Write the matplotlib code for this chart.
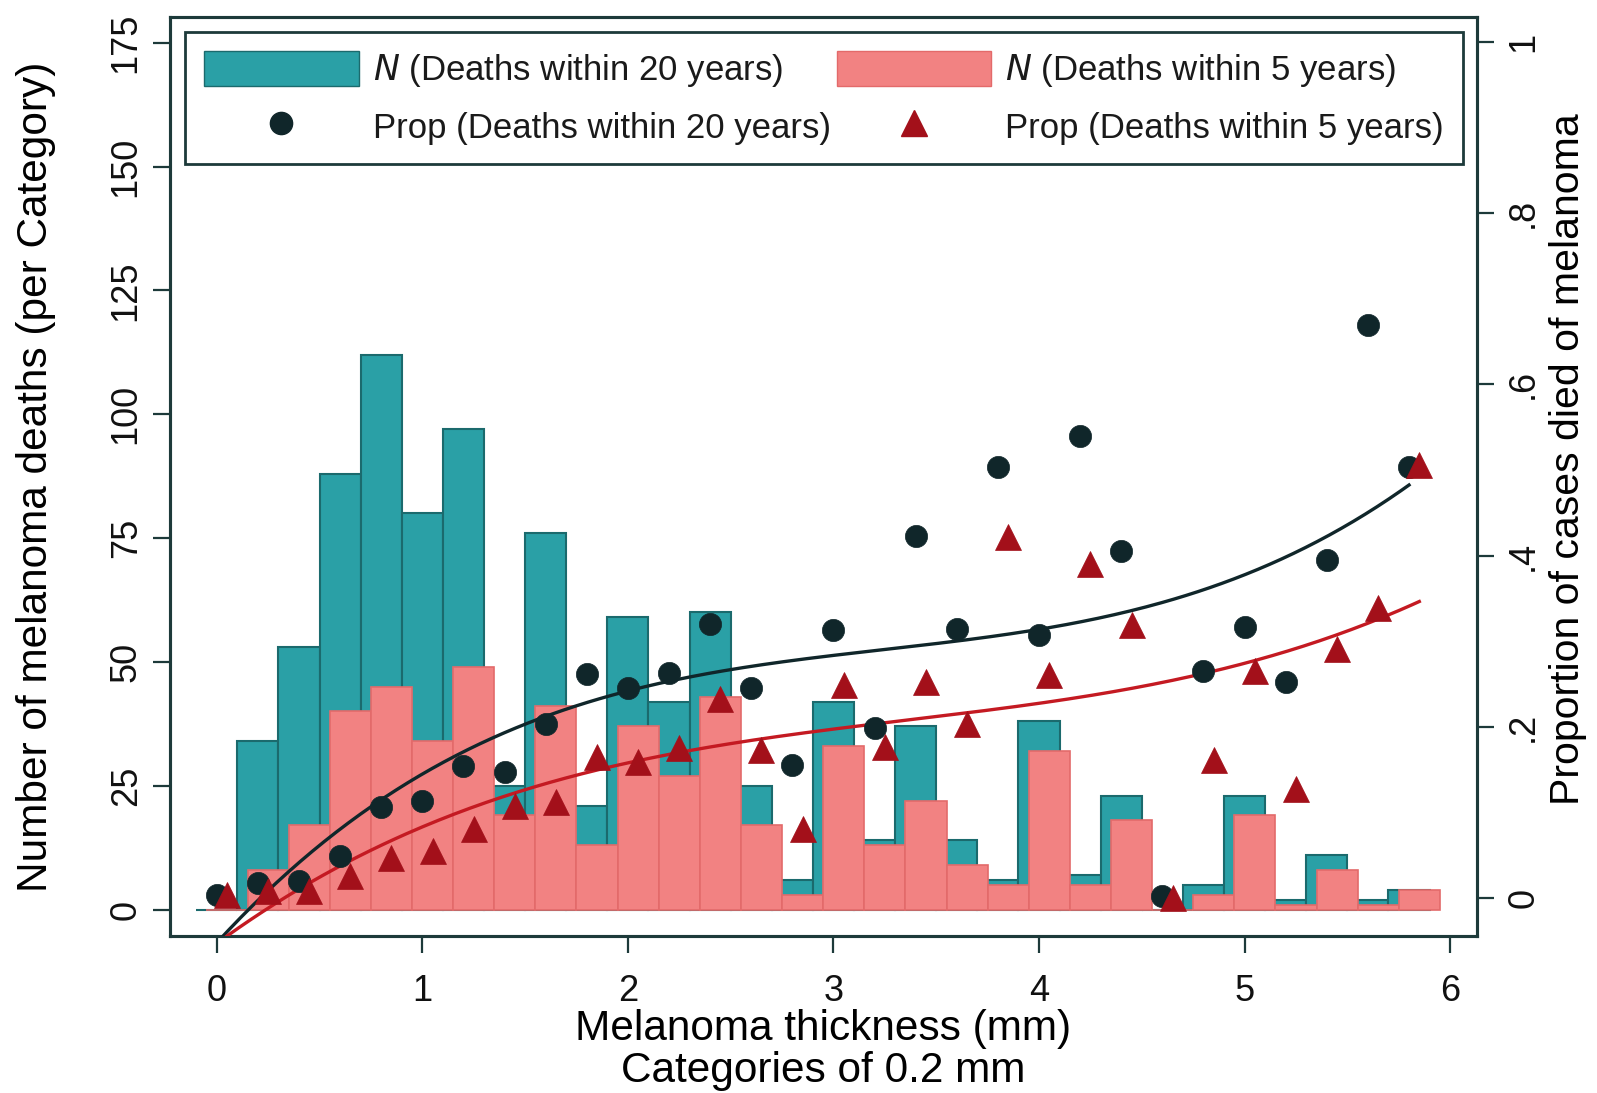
import numpy as np
import matplotlib
matplotlib.use('Agg')
import matplotlib.pyplot as plt
from matplotlib.patches import Patch
from matplotlib.lines import Line2D

# thickness categories (mm), 0.2 mm bins
thickness = [0.0, 0.2, 0.4, 0.6, 0.8, 1.0, 1.2, 1.4, 1.6, 1.8,
             2.0, 2.2, 2.4, 2.6, 2.8, 3.0, 3.2, 3.4, 3.6, 3.8,
             4.0, 4.2, 4.4, 4.6, 4.8, 5.0, 5.2, 5.4, 5.6, 5.8]
# deaths per category
n_20y = [0, 34, 53, 88, 112, 80, 97, 25, 76, 21,
         59, 42, 60, 25, 6, 42, 14, 37, 14, 6,
         38, 7, 23, 0, 5, 23, 2, 11, 2, 4]
n_5y = [0, 8, 17, 40, 45, 34, 49, 19, 41, 13,
        37, 27, 43, 17, 3, 33, 13, 22, 9, 5,
        32, 5, 18, 0, 3, 19, 1, 8, 1, 4]
# proportion of cases died of melanoma
prop_20y = [0.004, 0.018, 0.020, 0.050, 0.107, 0.114, 0.155, 0.148, 0.204, 0.262,
            0.245, 0.263, 0.320, 0.246, 0.156, 0.313, 0.199, 0.423, 0.315, 0.503,
            0.307, 0.540, 0.406, 0.003, 0.265, 0.317, 0.252, 0.395, 0.669, 0.503]
prop_5y = [0.004, 0.009, 0.009, 0.026, 0.047, 0.055, 0.081, 0.108, 0.113, 0.165,
           0.159, 0.175, 0.233, 0.173, 0.081, 0.249, 0.177, 0.252, 0.204, 0.422,
           0.261, 0.390, 0.319, 0.000, 0.162, 0.265, 0.128, 0.291, 0.339, 0.506]

TEAL = '#2aa0a6'
TEAL_EDGE = '#1b6a6d'
SALMON = '#f28282'
SALMON_EDGE = '#e36a6a'
DOT = '#10262a'
TRI = '#a3101a'
LINE_RED = '#c41a22'
FRAME = '#1d3a3a'

plt.rcParams['font.family'] = ['Liberation Sans', 'DejaVu Sans']
tick_fs = 26
title_fs = 30.5

fig = plt.figure(figsize=(15.97, 10.93), dpi=100)
ax = fig.add_axes([0.1065, 0.1436, 0.8184, 0.8408])
ax2 = ax.twinx()

# 5-year series is drawn shifted a little to the right
x20 = np.array(thickness)
x5 = x20 + 0.05
ax.bar(x20, n_20y, width=0.2, color=TEAL, edgecolor=TEAL_EDGE, linewidth=1.5, zorder=2)
ax.bar(x5, n_5y, width=0.2, color=SALMON, edgecolor=SALMON_EDGE, linewidth=1.2, zorder=3)

# smooth fits of the proportions (cubic)
xs20 = np.linspace(x20[0], x20[-1], 300)
xs5 = np.linspace(x5[0], x5[-1], 300)
ax2.plot(xs20, np.polyval(np.polyfit(x20, prop_20y, 3), xs20), color=DOT, lw=2.4, zorder=3)
ax2.plot(xs5, np.polyval(np.polyfit(x5, prop_5y, 3), xs5), color=LINE_RED, lw=2.4, zorder=3)

ax2.plot(x20, prop_20y, 'o', color=DOT, ms=16, mec=DOT, mew=0.5, zorder=4)
ax2.plot(x5, prop_5y, '^', color=TRI, ms=19, mec=TRI, mew=0.5, zorder=4)

ax.set_xlim(-0.227, 6.131)
ax.set_ylim(-5.35, 180.19)
ax2.set_ylim(-0.044, 1.0288)

ax.set_xticks([0, 1, 2, 3, 4, 5, 6])
ax.set_yticks([0, 25, 50, 75, 100, 125, 150, 175])
ax2.set_yticks([0, 0.2, 0.4, 0.6, 0.8, 1.0])
ax2.set_yticklabels(['0', '.2', '.4', '.6', '.8', '1'])

for a in (ax, ax2):
    for s in a.spines.values():
        s.set_color(FRAME)
        s.set_linewidth(2.2)
ax.tick_params(axis='both', direction='out', length=12, width=1.6, color=FRAME,
               labelsize=tick_fs, labelcolor='#111111')
ax.tick_params(axis='x', pad=15)
ax.tick_params(axis='y', pad=7, labelrotation=90)
ax2.tick_params(axis='y', direction='out', length=12, width=1.6, color=FRAME,
                labelsize=tick_fs, labelcolor='#111111', pad=9, labelrotation=90)
for lab in ax.get_yticklabels() + ax2.get_yticklabels():
    lab.set_va('center')

fig.text(0.0225, 0.5640, 'Number of melanoma deaths (per Category)', rotation=90,
         ha='center', va='center', fontsize=title_fs)
fig.text(0.982, 0.58, 'Proportion of cases died of melanoma', rotation=90,
         ha='center', va='center', fontsize=29.5)
fig.text(0.5156, 0.0586, 'Melanoma thickness (mm)', ha='center', va='center',
         fontsize=title_fs)
fig.text(0.5156, 0.0201, 'Categories of 0.2 mm', ha='center', va='center',
         fontsize=title_fs)

handles = [
    Patch(facecolor=TEAL, edgecolor=TEAL_EDGE),
    Line2D([], [], ls='none', marker='o', color=DOT, ms=16),
    Patch(facecolor=SALMON, edgecolor=SALMON_EDGE),
    Line2D([], [], ls='none', marker='^', color=TRI, ms=19),
]
labels = ['$\\it{N}$ (Deaths within 20 years)', 'Prop (Deaths within 20 years)',
          '$\\it{N}$ (Deaths within 5 years)', 'Prop (Deaths within 5 years)']
leg = ax2.legend(handles, labels, ncol=2, loc='upper left', mode='expand',
                 bbox_to_anchor=(0.0115, 0.0, 0.9775, 0.984), fontsize=25,
                 handlelength=4.45, handleheight=1.2, handletextpad=0.4,
                 labelspacing=0.55, borderpad=0.55, borderaxespad=0,
                 fancybox=False, framealpha=1, edgecolor=FRAME)
leg.get_frame().set_linewidth(2.0)
for t in leg.get_texts():
    t.set_color('#1a1a1a')

fig.savefig('out.png', dpi=100, facecolor='white')
